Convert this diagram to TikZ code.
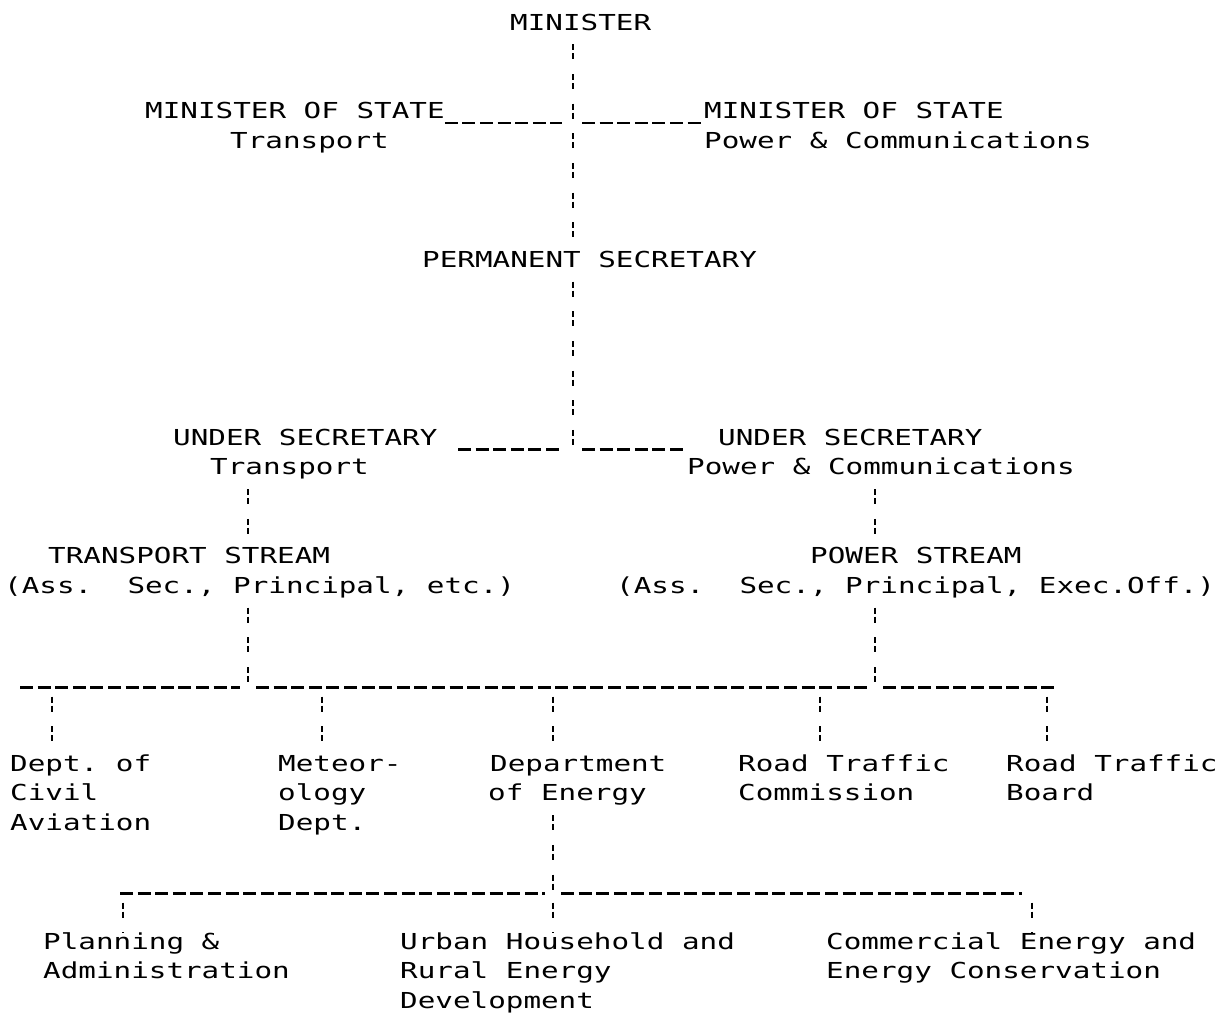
\documentclass[tikz,border=0pt]{standalone}
\usepackage{fontspec}
\newfontfamily\tw{DejaVu Sans Mono}[FakeStretch=1.33]
\tikzset{
  lbl/.style={anchor=base west, inner sep=0pt, text height=16pt, text depth=5pt,
    font=\tw\fontsize{22}{29.65}\selectfont},
  vcol/.style={line width=2.8pt, dash pattern=on 6pt off 3pt on 6pt off 14.65pt, dash phase=20.5pt},
  hund/.style={line width=2.5pt, dash pattern=on 13pt off 4.6pt},
}
\begin{document}
\frenchspacing
\begin{tikzpicture}[x=1pt,y=-1pt]
\useasboundingbox[fill=white] (0,0) rectangle (1232,1013);
% ---- texts ----
\node[lbl] (minister) at (510,30) {MINISTER};
\node[lbl] (mosL) at (145,118.95) {MINISTER OF STATE};
\node[lbl] (mosR) at (704,118.95) {MINISTER OF STATE};
\node[lbl] (trA) at (230,148.6) {Transport};
\node[lbl] (pcA) at (704,148.6) {Power \& Communications};
\node[lbl] (ps) at (422,267.2) {PERMANENT SECRETARY};
\node[lbl] (usL) at (173,445.1) {UNDER SECRETARY};
\node[lbl] (usR) at (718,445.1) {UNDER SECRETARY};
\node[lbl] (trB) at (210,474.75) {Transport};
\node[lbl] (pcB) at (687,474.75) {Power \& Communications};
\node[lbl] (tsL) at (48,563.7) {TRANSPORT STREAM};
\node[lbl] (psR) at (810,563.7) {POWER STREAM};
\node[lbl] (assL) at (4,593.35) {(Ass.\ \ Sec., Principal, etc.)};
\node[lbl] (assR) at (616,593.35) {(Ass.\ \ Sec., Principal, Exec.Off.)};
% departments
\node[lbl] (dep1) at (10,771.25) {Dept. of};
\node[lbl] (dep1b) at (10,800.9) {Civil};
\node[lbl] (dep1c) at (10,830.55) {Aviation};
\node[lbl] (dep2) at (278,771.25) {Meteor-};
\node[lbl] (dep2b) at (278,800.9) {ology};
\node[lbl] (dep2c) at (278,830.55) {Dept.};
\node[lbl] (dep3) at (490,771.25) {Department};
\node[lbl] (dep3b) at (488,800.9) {of Energy};
\node[lbl] (dep4) at (738,771.25) {Road Traffic};
\node[lbl] (dep4b) at (738,800.9) {Commission};
\node[lbl] (dep5) at (1006,771.25) {Road Traffic};
\node[lbl] (dep5b) at (1006,800.9) {Board};
% energy divisions
\node[lbl] (div1) at (43,949.15) {Planning \&};
\node[lbl] (div1b) at (43,978.8) {Administration};
\node[lbl] (div2) at (400,949.15) {Urban Household and};
\node[lbl] (div2b) at (400,978.8) {Rural Energy};
\node[lbl] (div2c) at (400,1008.45) {Development};
\node[lbl] (div3) at (826,949.15) {Commercial Energy and};
\node[lbl] (div3b) at (826,978.8) {Energy Conservation};
% ---- junctions ----
\coordinate (j3) at (573,123);
\coordinate (j14) at (573,449.6);
\coordinate (h14a) at (458,449.6);
\coordinate (h14b) at (683,449.6);
\coordinate (j22a) at (248,687.5);
\coordinate (j22b) at (875,687.5);
\coordinate (h22L) at (20,687.5);
\coordinate (h22R) at (1055,687.5);
\coordinate (d1) at (52,687.5);
\coordinate (d2) at (322,687.5);
\coordinate (d3) at (553,687.5);
\coordinate (d4) at (820,687.5);
\coordinate (d5) at (1047,687.5);
\coordinate (j29) at (553,893.5);
\coordinate (h29L) at (120,893.5);
\coordinate (h29R) at (1022,893.5);
\coordinate (e1) at (123,893.5);
\coordinate (e3) at (1032,893.5);
% ---- connectors ----
\draw[vcol] (minister.south -| j3) -- (ps.north -| j3);
\draw[hund] (mosL.east |- j3) -- ([xshift=-11pt]j3);
\draw[hund] ([xshift=9pt]j3) -- (mosR.west |- j3);
\draw[vcol] (ps.south -| j14) -- (j14);
\draw[hund] (h14a) -- ([xshift=-11pt]j14);
\draw[hund] ([xshift=9pt]j14) -- (h14b);
\draw[vcol] (trB.south -| j22a) -- (tsL.north -| j22a);
\draw[vcol] (pcB.south -| j22b) -- (psR.north -| j22b);
\draw[vcol] (assL.south -| j22a) -- (j22a);
\draw[vcol] (assR.south -| j22b) -- (j22b);
\draw[hund] (h22L) -- ([xshift=-8pt]j22a);
\draw[hund] ([xshift=8pt]j22a) -- ([xshift=-8pt]j22b);
\draw[hund] ([xshift=8pt]j22b) -- (h22R);
\draw[vcol] (d1) -- (dep1.north -| d1);
\draw[vcol] (d2) -- (dep2.north -| d2);
\draw[vcol] (d3) -- (dep3.north -| d3);
\draw[vcol] (d4) -- (dep4.north -| d4);
\draw[vcol] (d5) -- (dep5.north -| d5);
\draw[vcol] (dep3b.south -| j29) -- (j29);
\draw[hund] (h29L) -- ([xshift=-8pt]j29);
\draw[hund] ([xshift=8pt]j29) -- (h29R);
\draw[vcol] (e1) -- (div1.north -| e1);
\draw[vcol] (j29) -- (div2.north -| j29);
\draw[vcol] (e3) -- (div3.north -| e3);
\end{tikzpicture}
\end{document}
